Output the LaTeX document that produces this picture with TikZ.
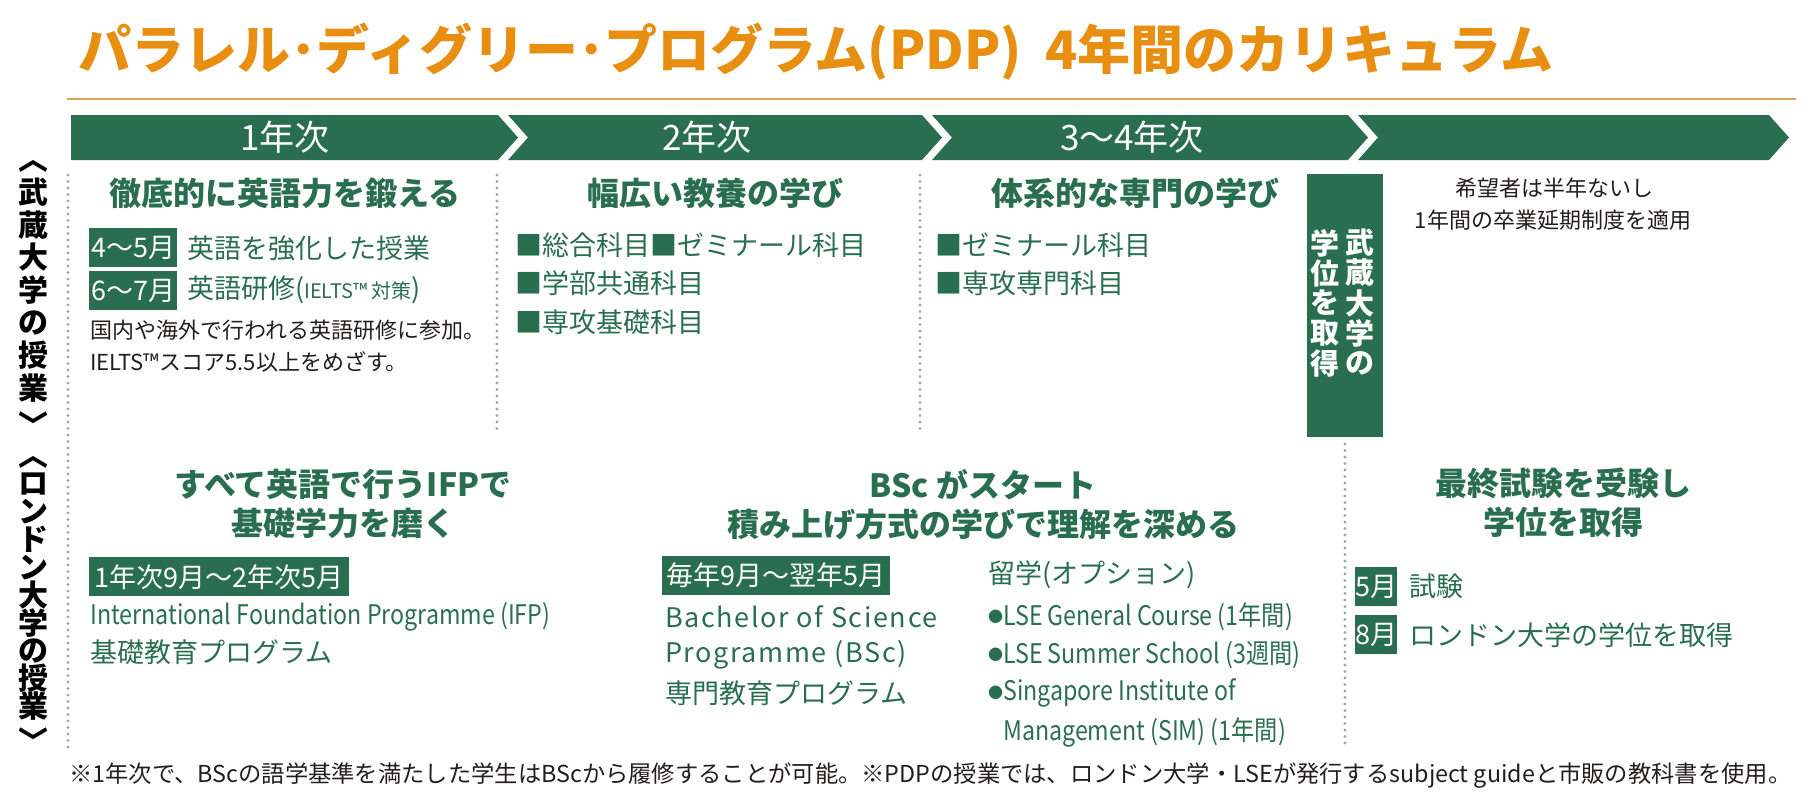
\documentclass[tikz,border=0pt]{standalone}
\usepackage{fontspec}
\setmainfont{Noto Sans CJK JP}
\newfontfamily\condfont{Noto Sans CJK JP}[FakeStretch=0.86]
\newfontfamily\widefont{Noto Sans CJK JP}[LetterSpace=6.0]
\usetikzlibrary{positioning}
\definecolor{pdpgreen}{RGB}{42,110,82}
\definecolor{pdporange}{RGB}{232,143,18}
\definecolor{pdpgold}{RGB}{212,168,88}
\definecolor{inkdark}{RGB}{35,30,30}
\definecolor{dotgray}{RGB}{165,165,165}
\tikzset{%
    yeartxt/.style={inner sep=0pt,text=white,font=\fontsize{35}{35}\selectfont},
    headtxt/.style={inner sep=0pt,text=pdpgreen,align=center,font=\bfseries\fontsize{32}{39}\selectfont},
    bodytxt/.style={inner sep=0pt,anchor=west,text=pdpgreen,font=\fontsize{27}{27}\selectfont},
    condtxt/.style={inner sep=0pt,anchor=west,text=pdpgreen,font=\condfont\fontsize{27}{27}\selectfont},
    widetxt/.style={inner sep=0pt,anchor=west,text=pdpgreen,font=\widefont\fontsize{27}{27}\selectfont},
    notetxt/.style={inner sep=0pt,anchor=west,text=inkdark,font=\fontsize{22}{22}\selectfont},
    datebox/.style={inner sep=0pt,anchor=north west,fill=pdpgreen,text=white,minimum height=39pt,font=\fontsize{27}{27}\selectfont},
    sidetxt/.style={inner sep=0pt,text=black,font=\bfseries\fontsize{30}{30}\selectfont},
    degtxt/.style={inner sep=0pt,text=white,font=\bfseries\fontsize{29}{29}\selectfont},
    dotsep/.style={draw=dotgray,line width=3.2pt,line cap=round,dash pattern=on 0pt off 6.5pt},
}

\begin{document}
\begin{tikzpicture}[x=1pt,y=-1pt]
        \useasboundingbox (0,0) rectangle (1806,808);

        % title and rule
        \node[anchor=west,inner sep=0pt,text=pdporange,font=\bfseries\fontsize{53}{53}\selectfont] (title) at (78,52) {パラレル･ディグリー･プログラム(PDP)\hspace{0.45em}4年間のカリキュラム};
        \draw[pdpgold,line width=1.5pt] (67,99) coordinate (R1) -- (1796,99) coordinate (R2);

        % year bar
        \fill[pdpgreen] (71,115) -- (498,115) -- (518,137.5) -- (498,160) -- (71,160) -- cycle;
        \foreach \s/\e in {508/922,932/1348,1358/1769}
          \fill[pdpgreen] (\s,115) -- (\e,115) -- (\e+20,137.5) -- (\e,160) -- (\s,160) -- (\s+20,137.5) -- cycle;
        \node[yeartxt] (yr1) at (285,137.5) {1年次};
        \node[yeartxt] (yr2) at (707,137.5) {2年次};
        \node[yeartxt] (yr3) at (1132,137.5) {3〜4年次};

        % dotted dividers
        \draw[dotsep] (68,175) -- (68,749);
        \draw[dotsep] (497,175) -- (497,435);
        \draw[dotsep] (920,175) -- (920,435);
        \draw[dotsep] (1345,444) -- (1345,749);

        % side labels
        \node[sidetxt] (mu0) at (33,166) {︿};
        \foreach \c [count=\i] in {武,蔵,大,学,の,授,業}
          \node[sidetxt] (mu\i) at (33,{192+32.7*(\i-1)}) {\c};
        \node[sidetxt] (mu8) at (33,424) {﹀};
        \node[sidetxt] (lo0) at (33,462) {︿};
        \foreach \c [count=\i] in {ロ,ン,ド,ン,大,学,の,授,業}
          \node[sidetxt] (lo\i) at (33,{484+27.8*(\i-1)}) {\c};
        \node[sidetxt] (lo10) at (33,740) {﹀};

        % 1st year
        \node[headtxt] (h1) at (285,193) {徹底的に英語力を鍛える};
        \node[datebox,minimum width=88pt] (d1) at (89,228) {4〜5月};
        \node[bodytxt] (t1) at (187,248) {英語を強化した授業};
        \node[datebox,minimum width=88pt] (d2) at (89,271) {6〜7月};
        \node[bodytxt] (t2) at (187,290) {英語研修({\fontsize{20}{20}\selectfont IELTS™ 対策})};
        \node[notetxt] (n1) at (90,330) {国内や海外で行われる英語研修に参加。};
        \node[notetxt] (n2) at (90,362) {IELTS™スコア5.5以上をめざす。};

        % 2nd year
        \node[headtxt] (h2) at (715,193) {幅広い教養の学び};
        \node[bodytxt] (s1) at (515,245) {■総合科目■ゼミナール科目};
        \node[bodytxt] (s2) at (515,283) {■学部共通科目};
        \node[bodytxt] (s3) at (515,322) {■専攻基礎科目};

        % 3rd-4th year
        \node[headtxt] (h3) at (1135,193) {体系的な専門の学び};
        \node[bodytxt] (s4) at (935,245) {■ゼミナール科目};
        \node[bodytxt] (s5) at (935,283) {■専攻専門科目};

        % degree box
        \node[anchor=north west,inner sep=0pt,fill=pdpgreen,minimum width=76pt,minimum height=263pt] (mbox) at (1307,174) {};
        \foreach \c [count=\i] in {武,蔵,大,学,の}
          \node[degtxt] (ma\i) at (1360,{243+30*(\i-1)}) {\c};
        \foreach \c [count=\i] in {学,位,を,取,得}
          \node[degtxt] (mb\i) at (1325,{243+30*(\i-1)}) {\c};
        \node[notetxt,anchor=center] (e1) at (1554,188) {希望者は半年ないし};
        \node[notetxt,anchor=center] (e2) at (1553,220) {1年間の卒業延期制度を適用};

        % London, IFP
        \node[headtxt] (h4) at (343,504) {すべて英語で行うIFPで\\基礎学力を磨く};
        \node[datebox,minimum width=260pt] (d3) at (89,557) {1年次9月〜2年次5月};
        \node[condtxt] (t3) at (90,617) {International Foundation Programme (IFP)};
        \node[bodytxt] (t4) at (90,652) {基礎教育プログラム};

        % London, BSc
        \node[headtxt] (h5) at (983,505) {BSc がスタート\\積み上げ方式の学びで理解を深める};
        \node[datebox,minimum width=228pt] (d4) at (662,556) {毎年9月〜翌年5月};
        \node[widetxt] (t5) at (665,617) {Bachelor of Science};
        \node[widetxt] (t6) at (665,655) {Programme (BSc)};
        \node[bodytxt] (t7) at (665,693) {専門教育プログラム};
        \node[bodytxt] (t8) at (988,575) {留学(オプション)};
        \foreach \y/\txt [count=\i] in {617/LSE General Course (1年間),655/LSE Summer School (3週間),693/Singapore Institute of}
        {
          \node[bodytxt,font=\fontsize{15}{15}\selectfont] (bu\i) at (988,\y) {●};
          \node[condtxt] (bt\i) at (1003,\y) {\txt};
        }
        \node[condtxt] (bt4) at (1003,732) {Management (SIM) (1年間)};

        % London, final
        \node[headtxt] (h6) at (1563,503) {最終試験を受験し\\学位を取得};
        \node[datebox,minimum width=42pt] (m5) at (1355,567) {5月};
        \node[bodytxt,right=12pt of m5] (x1) {試験};
        \node[datebox,minimum width=42pt] (m8) at (1355,615) {8月};
        \node[bodytxt,right=12pt of m8] (x2) {ロンドン大学の学位を取得};

        % footnote
        \node[notetxt,font=\fontsize{23.3}{23.3}\selectfont] (fn) at (69,776) {※1年次で、BScの語学基準を満たした学生はBScから履修することが可能。※PDPの授業では、ロンドン大学・LSEが発行するsubject guideと市販の教科書を使用。};
\end{tikzpicture}
\end{document}
